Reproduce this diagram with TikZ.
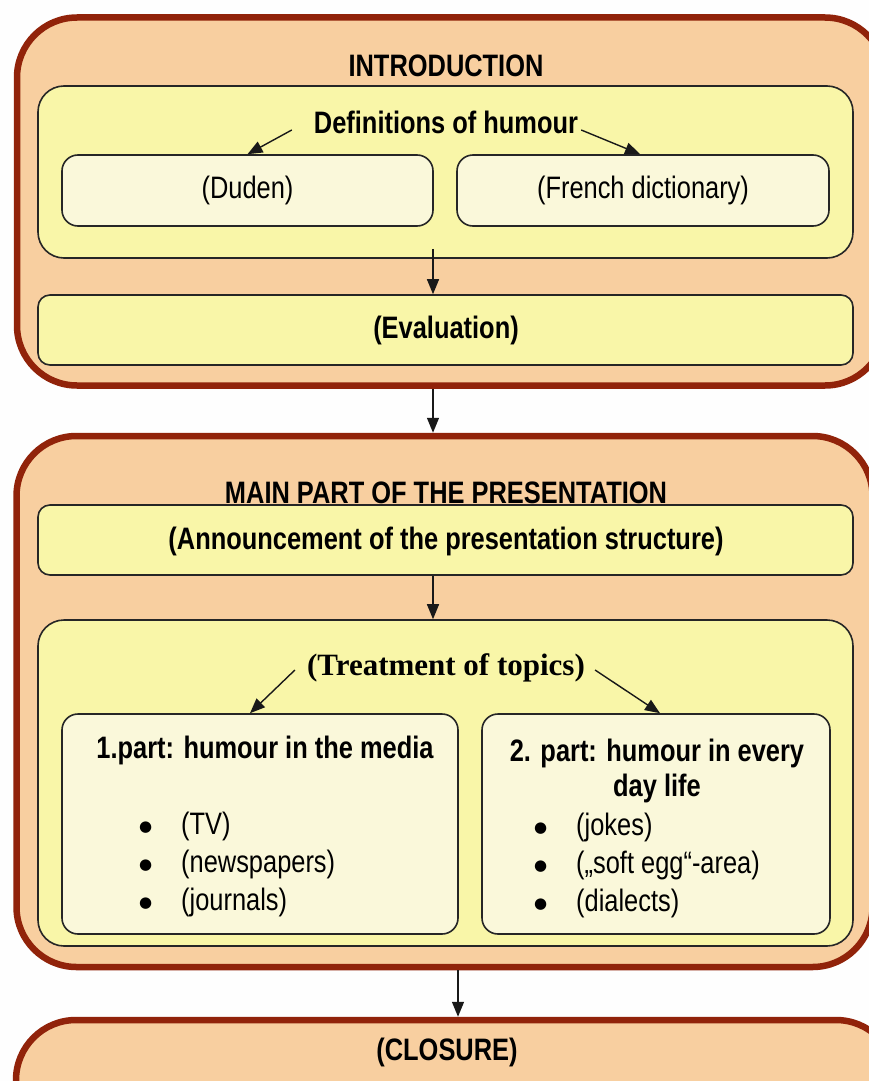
\documentclass[tikz,border=0pt]{standalone}
\usepackage{fontspec}
\setmainfont{Liberation Sans}[FakeStretch=0.82]
\newfontfamily\serifbf{Liberation Serif}
\newfontfamily\dejavu{DejaVu Sans}
\usetikzlibrary{arrows.meta,calc}
\definecolor{brd}{RGB}{145,35,10}
\definecolor{peach}{RGB}{248,207,160}
\definecolor{yel}{RGB}{249,246,168}
\definecolor{pale}{RGB}{250,248,218}
\definecolor{bg}{RGB}{254,254,254}
\newcommand{\bul}{\makebox[42pt][l]{\raisebox{2.5pt}{\dejavu\fontsize{15}{15}\selectfont ●}}}
\tikzset{
  outerbox/.style={draw=brd, line width=6.5pt, fill=peach, rounded corners=60pt, inner sep=0pt},
  yelbox/.style={draw=black!85, line width=1.6pt, fill=yel, rounded corners=26pt, inner sep=0pt},
  palebox/.style={draw=black!85, line width=1.6pt, fill=pale, rounded corners=16pt, inner sep=0pt},
  flatbox/.style={draw=black!85, line width=1.6pt, fill=yel, rounded corners=12pt, inner sep=0pt},
  txt/.style={inner sep=0pt, font=\fontsize{31}{36}\selectfont},
  btxt/.style={inner sep=0pt, font=\fontsize{31}{35}\selectfont\bfseries},
  lst/.style={inner sep=0pt, anchor=west, align=left, font=\fontsize{31}{38}\selectfont},
  arr/.style={-{Triangle[length=15pt,width=12pt]}, line width=1.4pt, black!90},
}
\begin{document}
\begin{tikzpicture}[x=1pt,y=-1pt]
\useasboundingbox (0,0) rectangle (869,1081);
\fill[bg] (0,0) rectangle (869,1081);
\begin{scope}
\clip (0,0) rectangle (869,1081);
% INTRODUCTION
\node[outerbox, minimum width=868, minimum height=368] (intro) at (451,201.5) {};
\node[btxt] (introt) at (446,66) {INTRODUCTION};
\node[yelbox, minimum width=815, minimum height=172] (defbox) at (445.5,172) {};
\node[btxt] (defs) at (446,122) {Definitions of humour};
\node[palebox, minimum width=371, minimum height=71] (duden) at (247.5,190.5) {};
\node[txt] (dudent) at (247.5,190) {(Duden)};
\node[palebox, minimum width=372, minimum height=71] (french) at (643,190.5) {};
\node[txt] (frencht) at (643,190) {(French dictionary)};
\node[flatbox, minimum width=815, minimum height=70] (eval) at (445.5,330) {};
\node[btxt] (evalt) at (446,330) {(Evaluation)};
% MAIN PART
\node[outerbox, minimum width=856, minimum height=531] (main) at (444.5,701.5) {};
\node[btxt] (maint) at (446,493) {MAIN PART OF THE PRESENTATION};
\node[flatbox, minimum width=815, minimum height=70] (ann) at (445.5,540) {};
\node[btxt] (annt) at (446,541) {(Announcement of the presentation structure)};
\node[yelbox, minimum width=815, minimum height=326] (treat) at (445.5,783) {};
\node[inner sep=0pt, font=\fontsize{31}{35}\serifbf\bfseries] (treatt) at (446,668) {(Treatment of topics)};
\node[palebox, minimum width=396, minimum height=220] (part1) at (260,824) {};
\node[btxt] (p1t) at (265,750) {1.part: humour in the media};
\node[lst] (list1) at (139,864) {\bul(TV)\\\bul(newspapers)\\\bul(journals)};
\node[palebox, minimum width=348, minimum height=220] (part2) at (656,824) {};
\node[btxt, align=center] (p2t) at (657,771) {2. part: humour in every\\day life};
\node[lst] (list2) at (534,865) {\bul(jokes)\\\bul(\char"201E soft egg\char"201C -area)\\\bul(dialects)};
% CLOSURE
\node[outerbox, minimum width=880, minimum height=140] (clos) at (456,1090) {};
\node[btxt] (clost) at (447,1052) {(CLOSURE)};
% arrows
\draw[arr] ($(defs.west)+(-22,8)$) -- (duden.north);
\draw[arr] ($(defs.east)+(3,8)$) -- ($(french.north)+(-3,0)$);
\draw[arr] ($(defbox.south)+(-12.5,-10)$) -- ($(eval.north)+(-12.5,0)$);
\draw[arr] ($(intro.south)+(-18,0)$) -- ($(main.north)+(-11.5,0)$);
\draw[arr] ($(ann.south)+(-12.5,0)$) -- ($(treat.north)+(-12.5,0)$);
\draw[arr] ($(treatt.west)+(-12,2)$) -- ($(part1.north)+(-10,0)$);
\draw[arr] ($(treatt.east)+(10,2)$) -- ($(part2.north)+(4,0)$);
\draw[arr] ($(main.south)+(13.5,0)$) -- ($(clos.north)+(2,0)$);
\end{scope}
\end{tikzpicture}
\end{document}
